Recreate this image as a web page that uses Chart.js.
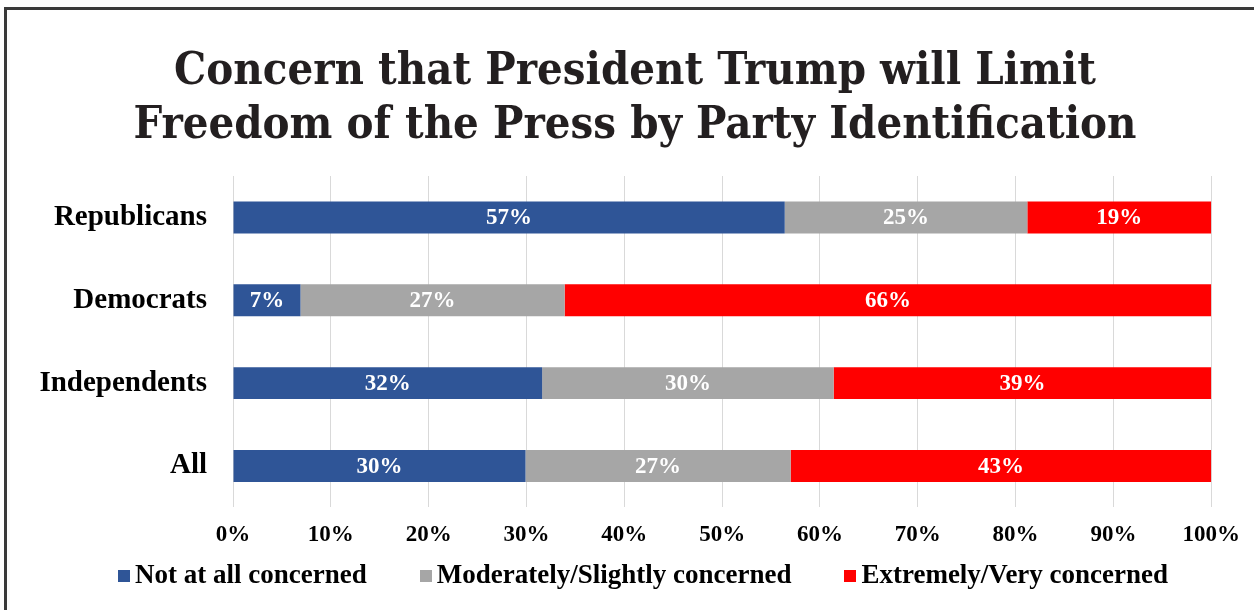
<!DOCTYPE html>
<html>
<head>
<meta charset="utf-8">
<script src="https://cdn.jsdelivr.net/npm/chart.js@4"></script>
<style>
  html, body { margin: 0; padding: 0; background: #fff; }
  #wrap { position: relative; width: 1254px; height: 610px; overflow: hidden; }
  #frame { position: absolute; left: 4px; top: 7px; width: 1300px; height: 700px;
           border-left: 3px solid #3a3a3a; border-top: 3px solid #3a3a3a; }
  canvas { position: absolute; left: 0; top: 0; }
  #legenda { position: absolute; left: 0; top: 559px; width: 1254px; box-sizing: border-box;
             padding-left: 118px; display: flex; justify-content: flex-start; gap: 53px;
             font: bold 27px "Liberation Serif", "Times New Roman", serif; color: #000; }
  #legenda span { display: flex; align-items: center; white-space: nowrap; }
  #legenda i { display: inline-block; width: 12px; height: 12px; margin-right: 5px; margin-top: 2px; }
</style>
</head>
<body>
<div id="wrap">
  <div id="frame"></div>
  <canvas id="chart" width="1254" height="610"></canvas>
  <div id="legenda"></div>
</div>
<script>
// Grupos e séries (largura das barras, rótulos como impressos)
const categorias = ['Republicans', 'Democrats', 'Independents', 'All'];
const nadaPreocupado = [56.4, 6.9, 31.6, 29.9];
const moderadamente  = [24.8, 27.0, 29.8, 27.1];
const extremamente   = [18.8, 66.1, 38.6, 43.0];
const rotNada = ['57%', '7%', '32%', '30%'];
const rotMod  = ['25%', '27%', '30%', '27%'];
const rotExt  = ['19%', '66%', '39%', '43%'];
const ticksX = [0, 10, 20, 30, 40, 50, 60, 70, 80, 90, 100];

const serif = '"Liberation Serif", "Times New Roman", serif';

// Rótulos brancos centralizados em cada segmento
const rotulosBarras = {
  id: 'rotulosBarras',
  afterDatasetsDraw(chart) {
    const ctx = chart.ctx;
    ctx.save();
    ctx.fillStyle = '#fff';
    ctx.font = 'bold 23px ' + serif;
    ctx.textAlign = 'center';
    ctx.textBaseline = 'middle';
    chart.data.datasets.forEach((ds, i) => {
      chart.getDatasetMeta(i).data.forEach((bar, j) => {
        ctx.fillText(ds.rotulos[j], (bar.x + bar.base) / 2, bar.y + 1);
      });
    });
    ctx.restore();
  }
};

// Título centrado um pouco à direita, como no original
const deslocaTitulo = {
  id: 'deslocaTitulo',
  afterLayout(chart) {
    if (chart.titleBlock) chart.titleBlock.left = 56;
  }
};

const grafico = new Chart(document.getElementById('chart'), {
  type: 'bar',
  data: {
    labels: categorias,
    datasets: [
      { label: 'Not at all concerned', data: nadaPreocupado, rotulos: rotNada, backgroundColor: '#2F5597' },
      { label: 'Moderately/Slightly concerned', data: moderadamente, rotulos: rotMod, backgroundColor: '#A6A6A6' },
      { label: 'Extremely/Very concerned', data: extremamente, rotulos: rotExt, backgroundColor: '#FF0000' }
    ]
  },
  options: {
    indexAxis: 'y',
    responsive: false,
    animation: false,
    layout: { padding: { left: 0, right: 40, top: 0, bottom: 47 } },
    datasets: { bar: { categoryPercentage: 1, barPercentage: 0.386, borderWidth: 0 } },
    scales: {
      x: {
        stacked: true, min: 0, max: 100,
        afterBuildTicks: s => { s.ticks = ticksX.map(v => ({ value: v })); },
        grid: { color: '#d9d9d9', drawTicks: false },
        border: { display: false },
        ticks: { color: '#000', padding: 14, font: { family: serif, weight: 'bold', size: 23 },
                 callback: v => v + '%' }
      },
      y: {
        stacked: true,
        afterFit: s => { s.width = 233; },
        grid: { display: false, drawTicks: false },
        border: { display: false },
        ticks: { color: '#000', padding: 26, font: { family: serif, weight: 'bold', size: 29 } }
      }
    },
    plugins: {
      title: {
        display: true,
        text: ['Concern that President Trump will Limit', 'Freedom of the Press by Party Identification'],
        color: '#231f20',
        font: { family: '"DejaVu Serif Condensed", "DejaVu Serif", serif', weight: 'bold', size: 45, lineHeight: '54px' },
        padding: { top: 45, bottom: 23 }
      },
      legend: { display: false },
      tooltip: { enabled: false }
    }
  },
  plugins: [rotulosBarras, deslocaTitulo]
});

// Legenda em HTML (espaçamento igual ao original)
document.getElementById('legenda').innerHTML = grafico.data.datasets.map(ds =>
  `<span><i style="background:${ds.backgroundColor}"></i>${ds.label}</span>`
).join('');
</script>
</body>
</html>
